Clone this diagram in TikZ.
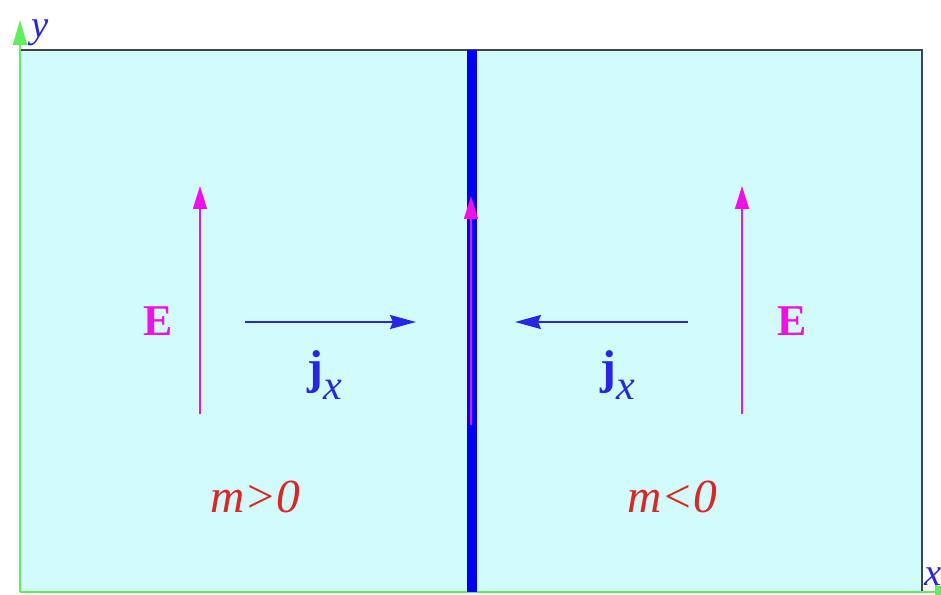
\documentclass[tikz,border=0pt]{standalone}
\usepackage{fontspec}
\setmainfont{Liberation Serif}
\usetikzlibrary{arrows.meta,positioning}
\definecolor{wallfill}{HTML}{D2FCFC}
\definecolor{axisgreen}{HTML}{5EEE5E}
\definecolor{framegray}{HTML}{404444}
\definecolor{fieldmag}{HTML}{F010E8}
\definecolor{currblue}{HTML}{2626E6}
\definecolor{massred}{HTML}{E02424}
\tikzset{
    wall diagram/.style = {x=0.02cm, y=-0.02cm},
    frame/.style        = {draw=framegray, line width=1.2pt},
    axis/.style         = {draw=axisgreen, line width=1.3pt,
                           -{Triangle[length=5mm, width=2.8mm]}},
    wall/.style         = {draw=blue, line width=6.2pt},
    efield/.style       = {draw=fieldmag, line width=0.9pt,
                           -{Triangle[length=4.6mm, width=2.8mm]}},
    current/.style      = {draw=currblue, line width=1.1pt,
                           -{Stealth[length=5.2mm, width=2.8mm, inset=0.6mm]}},
    elabel/.style       = {text=fieldmag, font=\fontsize{25}{30}\selectfont\bfseries},
    jlabel/.style       = {text=currblue, font=\fontsize{27}{30}\selectfont},
    mlabel/.style       = {text=massred, font=\fontsize{27}{30}\selectfont\itshape},
    axlabel/.style      = {text=currblue, font=\fontsize{22}{26}\selectfont\itshape,
                           inner sep=0pt}
}
\newcommand{\jx}{\textbf{j}\raisebox{-0.75ex}{\fontsize{24}{26}\selectfont\itshape x}}

\begin{document}
\begin{tikzpicture}[wall diagram]
\useasboundingbox (0,0) rectangle (941,595);

% Sample: two regions of opposite mass
\coordinate (org) at (20,592);
\coordinate (ne) at (922,50);
\fill[wallfill] (org) rectangle (ne);
\draw[frame] (20,50) -- (ne) -- (922,592);

% Axes
\draw[axis] (org) -- (20,20);
\draw[axis] (org) -- (960,592);
\node[axlabel] (ylab) at (40,33) {y};
\node[axlabel] (xlab) at (933,577) {x};

% Domain wall with its edge current
\coordinate (wtop) at (472,50);
\coordinate (wbot) at (472,592);
\draw[wall] (wbot) -- (wtop);
\coordinate (we0) at (471,425);
\coordinate (we1) at (471,196);
\draw[efield] (we0) -- (we1);

% Left region
\coordinate (el0) at (200,414);
\coordinate (el1) at (200,186);
\draw[efield] (el0) -- (el1);
\node[elabel] (EL) at (158,321) {E};
\coordinate (jl0) at (245,322);
\coordinate (jl1) at (416,322);
\draw[current] (jl0) -- (jl1);
\node[jlabel] (JL) at (325,375) {\jx};
\node[mlabel] (ML) at (255,497) {m>0};

% Right region
\coordinate (er0) at (742,414);
\coordinate (er1) at (742,186);
\draw[efield] (er0) -- (er1);
\node[elabel] (ER) at (792,321) {E};
\coordinate (jr0) at (688,322);
\coordinate (jr1) at (515,322);
\draw[current] (jr0) -- (jr1);
\node[jlabel] (JR) at (618,375) {\jx};
\node[mlabel] (MR) at (672,497) {m<0};

\end{tikzpicture}
\end{document}
